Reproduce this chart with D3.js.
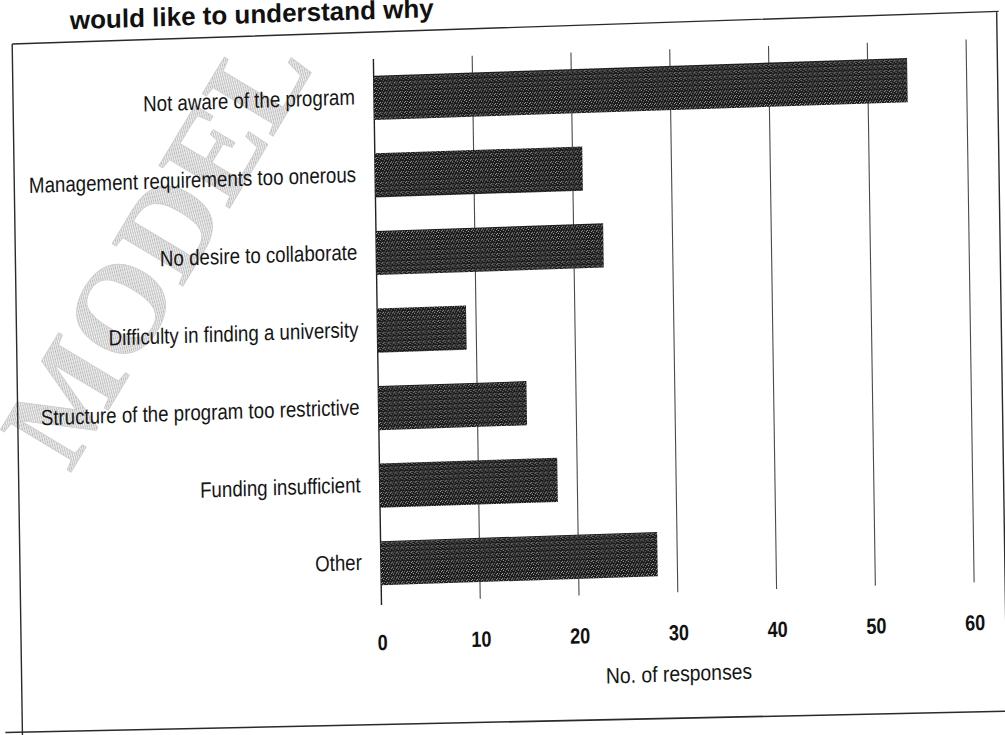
<!DOCTYPE html>
<html>
<head>
<meta charset="utf-8">
<script src="https://cdn.jsdelivr.net/npm/d3@7"></script>
<style>
  html, body { margin: 0; padding: 0; background: #fff; }
  svg { display: block; }
</style>
</head>
<body>
<svg id="chart" width="1005" height="735"></svg>
<script>
// Reasons given for not taking part in the program
const categories = [
  "Not aware of the program",
  "Management requirements too onerous",
  "No desire to collaborate",
  "Difficulty in finding a university",
  "Structure of the program too restrictive",
  "Funding insufficient",
  "Other"
];
const responses = [54, 21, 23, 9, 15, 18, 28];
const tickValues = [0, 10, 20, 30, 40, 50, 60];
const titleText = "would like to understand why";
const axisTitle = "No. of responses";
const watermark = "MODEL";

const svg = d3.select("#chart");

// Page is printed slightly askew: horizontals tilt up ~1.9deg, verticals lean ~0.85deg
const cx = 500, cy = 370;
const a = 1.9 * Math.PI / 180, b = 0.85 * Math.PI / 180;
const skew = `translate(${cx},${cy}) matrix(${Math.cos(a)},${-Math.sin(a)},${Math.sin(b)},${Math.cos(b)},0,0) translate(${-cx},${-cy})`;

const NARROW = "Liberation Sans Narrow, Arial Narrow, Liberation Sans, Arial, sans-serif";
const NARROW_X = 0.85;   // horizontal squeeze for a condensed look

const defs = svg.append("defs");

// Speckled dark fill for the bars
const pat = defs.append("pattern")
  .attr("id", "speckle").attr("patternUnits", "userSpaceOnUse")
  .attr("width", 5).attr("height", 5);
pat.append("rect").attr("width", 5).attr("height", 5).attr("fill", "#1b1b1b");
[[0, 0], [2, 1], [4, 3], [1, 3], [3, 4]].forEach(([px, py], i) => {
  pat.append("rect").attr("x", px).attr("y", py).attr("width", 1).attr("height", 1)
    .attr("fill", i % 2 ? "#7e7e7e" : "#a8a8a8");
});

// Halftone grey for the watermark
const dots = defs.append("pattern")
  .attr("id", "halftone").attr("patternUnits", "userSpaceOnUse")
  .attr("width", 3).attr("height", 3);
dots.append("rect").attr("width", 3).attr("height", 3).attr("fill", "#ededed");
[[0, 0], [2, 1], [1, 2]].forEach(([px, py]) => {
  dots.append("rect").attr("x", px).attr("y", py).attr("width", 1).attr("height", 1)
    .attr("fill", "#b0b0b0");
});

// Faint diagonal watermark behind the chart
svg.append("text")
  .attr("transform", "translate(70,474) rotate(-59)")
  .attr("font-family", "Liberation Serif, DejaVu Serif, serif")
  .attr("font-weight", "bold")
  .attr("font-size", 126)
  .attr("fill", "url(#halftone)")
  .attr("stroke", "#cdcdcd")
  .attr("stroke-width", 0.8)
  .text(watermark);

const g = svg.append("g").attr("transform", skew);

// Outer frame
g.append("path")
  .attr("d", "M17,28 L1004,28 M17,28 L17,745 M1002,28 L1002,745")
  .attr("fill", "none").attr("stroke", "#2a2a2a").attr("stroke-width", 1.4);
g.append("line")
  .attr("x1", 0).attr("y1", 716).attr("x2", 1010).attr("y2", 728)
  .attr("stroke", "#2a2a2a").attr("stroke-width", 1.6);

// Title
g.append("text")
  .attr("x", 75).attr("y", 15)
  .attr("font-family", "Liberation Sans, Arial, sans-serif")
  .attr("font-weight", "bold").attr("font-size", 26)
  .attr("fill", "#111")
  .text(titleText);

// Scales
const x = d3.scaleLinear().domain([0, 60]).range([378, 971]);
const y = d3.scaleBand().domain(categories).range([55, 598])
  .paddingInner(0.43).paddingOuter(0.215);

// Vertical gridlines
g.append("g").selectAll("line").data(tickValues).join("line")
  .attr("x1", d => x(d)).attr("x2", d => x(d))
  .attr("y1", 55).attr("y2", d => d === 0 ? 601 : 598)
  .attr("stroke", d => d === 0 ? "#222" : "#4a4a4a")
  .attr("stroke-width", d => d === 0 ? 1.4 : 1.1);

// Bars
g.append("g").selectAll("rect").data(categories).join("rect")
  .attr("x", x(0))
  .attr("y", d => y(d))
  .attr("width", (d, i) => x(responses[i]) - x(0))
  .attr("height", y.bandwidth())
  .attr("fill", "url(#speckle)");

// Category labels (condensed)
g.append("g").selectAll("text").data(categories).join("text")
  .attr("transform", d => `translate(${x(0) - 19},${y(d) + y.bandwidth() / 2 + 6}) scale(${NARROW_X},1)`)
  .attr("text-anchor", "end")
  .attr("font-family", NARROW)
  .attr("font-size", 22)
  .attr("fill", "#151515")
  .text(d => d);

// Value axis labels
const axis = d3.axisBottom(x).tickValues(tickValues).tickSize(0).tickPadding(0);
const ag = g.append("g").attr("transform", "translate(0,646)").call(axis);
ag.select(".domain").remove();
ag.selectAll("text")
  .attr("y", 0).attr("dy", 0)
  .attr("transform", "scale(0.82,1)")
  .attr("font-family", NARROW)
  .attr("font-weight", "bold").attr("font-size", 22)
  .attr("fill", "#111");

// Axis title
g.append("text")
  .attr("transform", `translate(${(x(0) + x(60)) / 2},687) scale(0.88,1)`)
  .attr("text-anchor", "middle")
  .attr("font-family", NARROW)
  .attr("font-size", 22)
  .attr("fill", "#151515")
  .text(axisTitle);
</script>
</body>
</html>
